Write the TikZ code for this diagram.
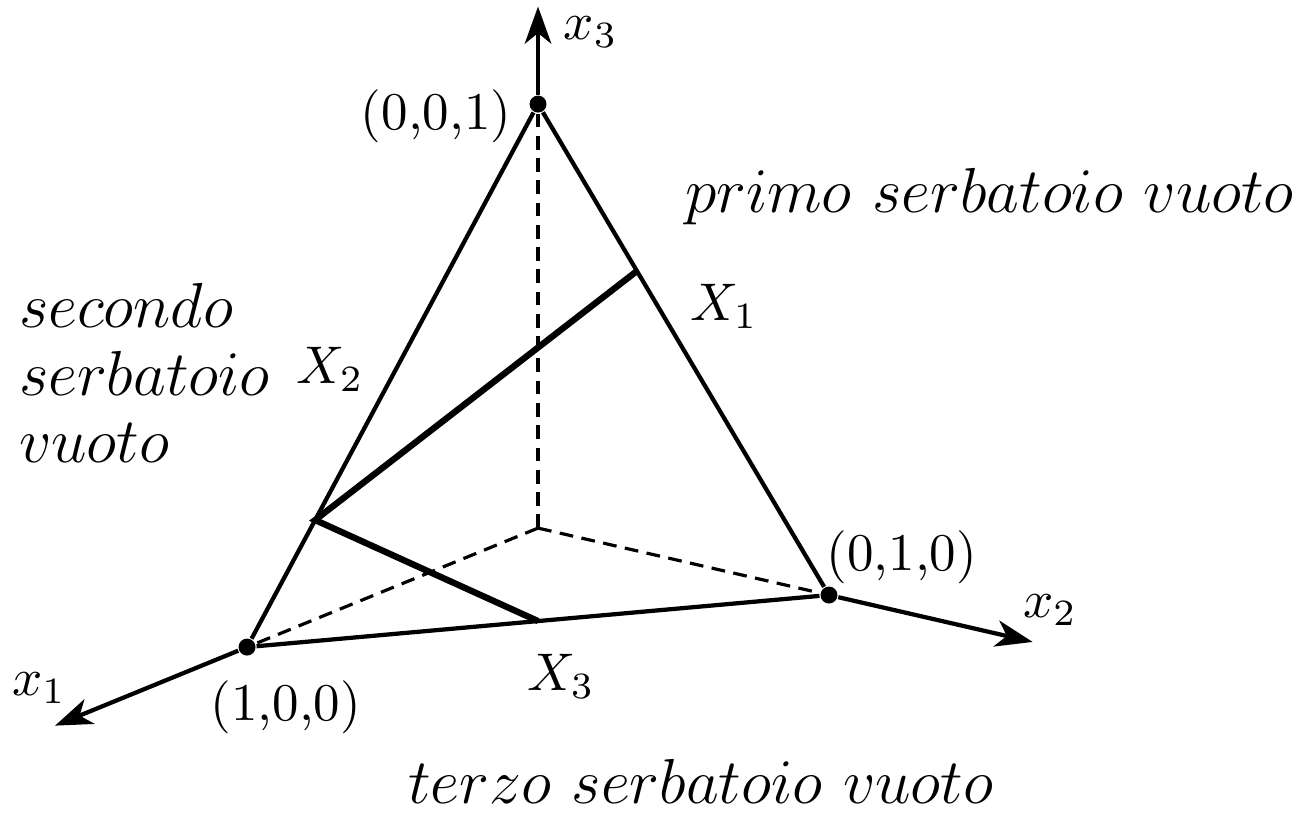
\documentclass[tikz,border=0pt]{standalone}
\usepackage{amsmath}
\usepackage{tikz}
\usetikzlibrary{arrows.meta, calc}

\begin{document}
\begin{tikzpicture}[
    lato/.style={thick},
    nascosto/.style={semithick, dash pattern=on 2.6pt off 1.6pt},
    spezz/.style={very thick},
    asse/.style={-{Stealth[length=7pt, width=5pt, inset=2pt]}, thick},
    vertice/.style={circle, fill, inner sep=0pt, minimum size=3.2pt},
    nota/.style={font=\large, inner sep=0pt},
]
\useasboundingbox (-3.567,-1.883) rectangle (5.118,3.501);

\coordinate (O) at (0,0);
\node[vertice] (e1) at (-1.929,-0.789) {};
\node[vertice] (e2) at (1.929,-0.444) {};
\node[vertice] (e3) at (0,2.811) {};
\coordinate (t1) at ($(O)!1.66!(e1)$);
\coordinate (t2) at ($(O)!1.70!(e2)$);
\coordinate (t3) at ($(O)!1.23!(e3)$);
\coordinate (X1) at ($(e3)!0.34!(e2)$);
\coordinate (X2) at ($(e3)!0.766!(e1)$);
\coordinate (X3) at ($(e1)!0.5!(e2)$);

\draw[nascosto] (O) -- (e1);
\draw[nascosto] (O) -- (e2);
\draw[nascosto] (O) -- (e3);
\draw[lato] (e3) -- (e1) -- (e2) -- (e3);
\draw[asse] (e1) -- (t1);
\draw[asse] (e2) -- (t2);
\draw[asse] (e3) -- (t3);
\draw[spezz] (X1) -- (X2) -- (X3);

\node (lx3) at (0.351,3.289) {$x_3$};
\node (l001) at (-0.676,2.732) {(0,0,1)};
\node[nota] (primo) at (2.995,2.195) {$primo\ serbatoio\ vuoto$};
\node (lX1) at (1.233,1.472) {$X_1$};
\node[nota, align=left, anchor=west, font=\fontsize{12}{12.8}\selectfont] (secondo) at (-3.448,1.028) {$secondo$\\$serbatoio$\\$vuoto$};
\node (lX2) at (-1.379,1.054) {$X_2$};
\node (l010) at (2.413,-0.192) {(0,1,0)};
\node (lx2) at (3.395,-0.544) {$x_2$};
\node (lx1) at (-3.308,-1.061) {$x_1$};
\node (l100) at (-1.671,-1.187) {(1,0,0)};
\node (lX3) at (0.152,-0.981) {$X_3$};
\node[nota] (terzo) at (1.081,-1.677) {$terzo\ serbatoio\ vuoto$};
\end{tikzpicture}
\end{document}
